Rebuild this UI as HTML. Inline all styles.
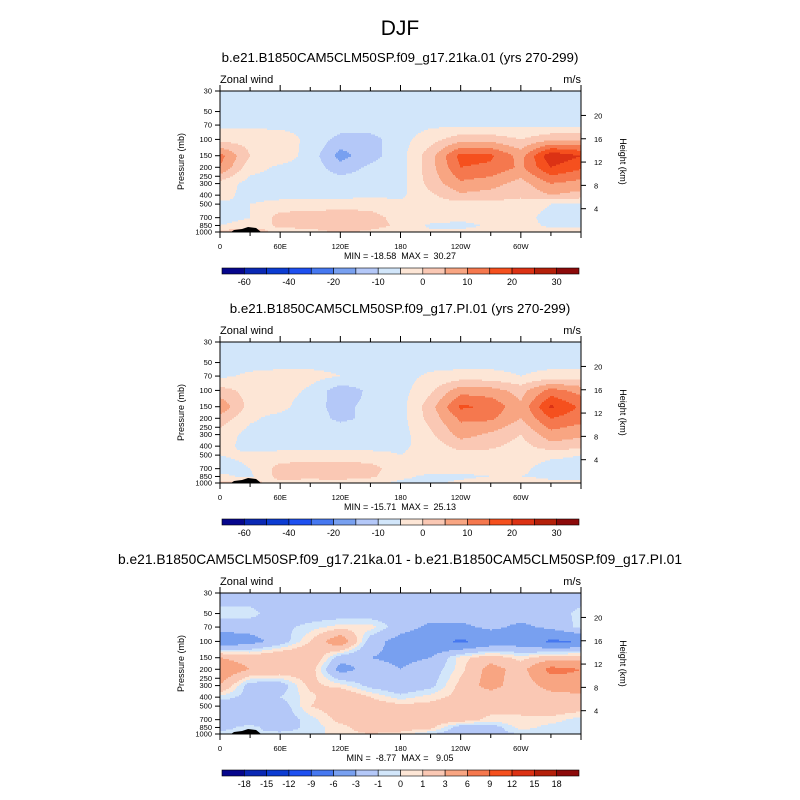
<!DOCTYPE html>
<html><head><meta charset="utf-8">
<style>
body{margin:0;background:#fff;}
svg{display:block;font-family:"Liberation Sans",sans-serif;}
</style></head>
<body>
<svg id="root" width="800" height="800" viewBox="0 0 800 800" xmlns="http://www.w3.org/2000/svg">
<rect width="800" height="800" fill="#fff"/>
<text x="400" y="35" font-size="21" text-anchor="middle">DJF</text>
</svg>
<script>
// ---- data ----
const lons = [0,30,60,90,120,150,180,210,240,270,300,330,360];
const levels = [30,50,70,100,150,200,300,400,500,700,850,1000];
const lonTickLabels = ["0","60E","120E","180","120W","60W"];
const presTicks = [30,50,70,100,150,200,250,300,400,500,700,850,1000];
const heightTicks = [4,8,12,16,20];
const colors = ['#06068c','#0a28b4','#0c3cd2','#1e50f0','#4678f0','#78a0f0','#b4c8f8','#d2e6fa','#fde6d6','#fac8b4','#f8a582','#f5784e','#f5501e','#dc3214','#b4200a','#8c0a0a'];
const bounds1 = [-60,-50,-40,-30,-20,-15,-10,-5,0,5,10,15,20,25,30];
const boundLabels1 = ["-60","","-40","","-20","","-10","","0","","10","","20","","30"];
const bounds3 = [-18,-15,-12,-9,-6,-3,-1,0,1,3,6,9,12,15,18];
const boundLabels3 = ["-18","-15","-12","-9","-6","-3","-1","0","1","3","6","9","12","15","18"];
const ctrl = [
[-7,-7,-7,-7,-7,-7,-7,-7,-7,-7,-7,-7,-7],
[-7,-7,-7,-7,-7,-7,-7,-7,-7,-7,-7,-7,-7],
[-6,-6,-6,-6,-7,-7,-7,-6,-6,-6,-6,-6,-6],
[-2,-2,-3,-6,-12,-12,-7,-2,3,3,0,4,4],
[12,0,-2,-7,-17,-12,-7,3,17,16,8,24,20],
[10,-3,-6,-7,-13,-9,-7,3,15,14,9,20,16],
[-2,-7,-7,-7,-7,-7,-7,2,9,7,3,10,8],
[-3,-7,-7,-7,-7,-6,-6,-1,4,3,1,5,3],
[-6,-5,-3,-3,-2,-2,-4,-2,-2,-2,-2,-5,-6],
[-7,-5,2,3,3,2,-2,-2,-3,-2,-3,-7,-7],
[-5,-3,1,2,3,2,-1,-6,-7,-4,-3,-6,-6],
[2,3,-2,-2,1,-1,-3,-4,-3,-3,-2,-3,-3]];
const pi = [
[-7,-7,-7,-7,-7,-7,-7,-7,-7,-7,-7,-7,-7],
[-7,-7,-7,-7,-7,-7,-7,-7,-7,-7,-7,-7,-7],
[-6,-4,-3,-3,-5,-7,-7,-4,-3,-3,-5,-3,-3],
[2,-2,-2,-6,-13,-9,-7,-1,8,7,3,12,8],
[9,-2,-3,-9,-11,-9,-7,3,16,14,6,21,14],
[3,-4,-7,-8,-11,-9,-7,2,11,11,5,15,12],
[-2,-7,-7,-7,-7,-7,-7,-1,7,4,0,8,6],
[-3,-7,-7,-7,-7,-7,-6,-3,2,1,-2,3,2],
[-5,-4,-3,-3,-3,-3,-5,-3,-2,-2,-3,-4,-5],
[-7,-5,2,3,3,2,-3,-3,-3,-3,-4,-7,-7],
[-4,-6,2,2,2,1,-4,-6,-6,-5,-5,-6,-6],
[2,2,-2,-3,-2,-4,-6,-6,-4,-2,-2,-4,-4]];
const diff = [
[-2,-2,-2,-2,-2,-2,-2,-2,-2,-2,-2,-2,-2],
[-0.5,-0.5,-2,-2,-2,-2,-2,-2,-2,-2,-2,-2,-0.5],
[-2,-2,-1.5,-0.5,0.5,0.5,-2,-3.5,-3.5,-2.5,-3.5,-2.5,-0.5],
[-5,-4,-2,1,5,-2,-4,-5,-6.5,-5,-4.5,-6.5,-6],
[3,2,3,3,-2,-3,-3.5,-3,0.5,2,0.5,2,2],
[5,3,2.5,2,-4,-2,-3,-2,0.5,4,2,7,6],
[3,-2,-2,1.5,0.5,-1.5,-2.5,-1.5,1.5,4,1.5,4,5],
[-0.5,-1.5,-1,0.5,3,1,-0.5,0.5,1.5,1.5,1.5,2,2],
[-2,-1.5,-2,1,2,2,1.5,1.5,2,2,1,2.5,2],
[-2,-2,-2,-0.5,1.5,2,2,2,2,0.5,1,0.5,-0.5],
[-1.5,-0.5,-2,-0.5,0.5,2,2,1.5,-2,-2,0.5,-0.5,-0.5],
[-0.5,-1,-0.5,-0.5,0.5,1,0.5,-1,-2,-1.5,-1,-0.5,-0.5]];
const panels = [
 {title:"b.e21.B1850CAM5CLM50SP.f09_g17.21ka.01 (yrs 270-299)", top:91, grid:ctrl, bounds:bounds1, labels:boundLabels1, minmax:"MIN = -18.58  MAX =  30.27"},
 {title:"b.e21.B1850CAM5CLM50SP.f09_g17.PI.01 (yrs 270-299)", top:342, grid:pi, bounds:bounds1, labels:boundLabels1, minmax:"MIN = -15.71  MAX =  25.13"},
 {title:"b.e21.B1850CAM5CLM50SP.f09_g17.21ka.01 - b.e21.B1850CAM5CLM50SP.f09_g17.PI.01", top:593, grid:diff, bounds:bounds3, labels:boundLabels3, minmax:"MIN =  -8.77  MAX =   9.05"}
];
// ---- drawing ----
const NS="http://www.w3.org/2000/svg";
const root=document.getElementById('root');
const X0=220,X1=581,H=141;
function mk(tag,attrs,parent){const e=document.createElementNS(NS,tag);for(const k in attrs)e.setAttribute(k,attrs[k]);(parent||root).appendChild(e);return e;}
function xOf(lon){return X0+(lon/360)*(X1-X0);}
function yOf(p,top){return top+Math.log(p/30)/Math.log(1000/30)*H;}
function binOf(v,b){let i=0;while(i<b.length&&v>=b[i])i++;return i;}
function sample(grid,lon,p){
  let i=Math.min(Math.floor(lon/30),11);const fx=(lon-lons[i])/30;
  let j=0;while(j<levels.length-2&&p>levels[j+1])j++;
  const fy=(Math.log(p)-Math.log(levels[j]))/(Math.log(levels[j+1])-Math.log(levels[j]));
  const a=grid[j][i]*(1-fx)+grid[j][i+1]*fx, b=grid[j+1][i]*(1-fx)+grid[j+1][i+1]*fx;
  return a*(1-fy)+b*fy;
}
panels.forEach((pn,k)=>{
  const g=mk('g',{});
  
  
  const t=mk('text',{x:400,y:pn.top-29,'font-size':k===2?13.8:13.3,'text-anchor':'middle'},g);t.textContent=pn.title;
  
  const l=mk('text',{x:220,y:pn.top-8,'font-size':11},g);l.textContent="Zonal wind";
  
  const u=mk('text',{x:581,y:pn.top-8,'font-size':11,'text-anchor':'end'},g);u.textContent="m/s";
  
  const field=mk('g',{'shape-rendering':'crispEdges'},g);
  
  const dy=1.5;
  for(let y=pn.top;y<pn.top+H;y+=dy){
    const p=30*Math.exp((y+dy/2-pn.top)/H*Math.log(1000/30));
    let runStart=X0,runBin=-1;
    for(let x=X0;x<=X1;x++){
      const bin = x<X1 ? binOf(sample(pn.grid,Math.min((x+0.5-X0)/(X1-X0)*360,359.99),p),pn.bounds) : -2;
      if(bin!==runBin){
        if(runBin>=0){const r=mk('rect',{x:runStart,y:y,width:x-runStart,height:dy+0.3,fill:colors[runBin]},field);
          }
        runStart=x;runBin=bin;
      }
    }
  }
  const by=pn.top+H;
  const topo=mk('path',{d:`M${xOf(11)},${by} L${xOf(14)},${by-2} L${xOf(22)},${by-3} L${xOf(28)},${by-5} L${xOf(36)},${by-4} L${xOf(41)},${by} Z`,fill:'#000'},g);
  
  const fr=mk('rect',{x:X0,y:pn.top,width:X1-X0,height:H,fill:'none',stroke:'#000','stroke-width':1},g);
  
  for(let lon=0;lon<=360;lon+=30){
    const x=xOf(lon),len=lon%60===0?6:4;
    mk('line',{x1:x,y1:pn.top,x2:x,y2:pn.top-len,stroke:'#000'},g);
    mk('line',{x1:x,y1:by,x2:x,y2:by+len,stroke:'#000'},g);
  }
  lonTickLabels.forEach((s,i)=>{const e=mk('text',{x:xOf(i*60),y:by+17,'font-size':7.5,'text-anchor':'middle'},g);e.textContent=s;
    });
  presTicks.forEach(p=>{const y=yOf(p,pn.top);mk('line',{x1:X0,y1:y,x2:X0-5,y2:y,stroke:'#000'},g);
    const e=mk('text',{x:X0-8,y:y+2.5,'font-size':7.5,'text-anchor':'end'},g);e.textContent=p;
    });
  heightTicks.forEach(h=>{const y=yOf(1000*Math.exp(-h/6.9),pn.top);mk('line',{x1:X1,y1:y,x2:X1+5,y2:y,stroke:'#000'},g);
    const e=mk('text',{x:X1+13,y:y+3,'font-size':7.5},g);e.textContent=h;
    });
  const ya=mk('text',{x:0,y:0,'font-size':9,'text-anchor':'middle',transform:`translate(184,${pn.top+H/2}) rotate(-90)`},g);ya.textContent="Pressure (mb)";
  
  const yb=mk('text',{x:0,y:0,'font-size':9,'text-anchor':'middle',transform:`translate(620,${pn.top+H/2}) rotate(90)`},g);yb.textContent="Height (km)";
  
  const mm=mk('text',{x:400,y:by+27,'font-size':9,'text-anchor':'middle',style:'white-space:pre'},g);mm.textContent=pn.minmax;
  
  // colorbar
  const cb=mk('g',{},g);
  const cy=by+36,cx0=222,cw=(579-222)/16;
  colors.forEach((c,i)=>{const r=mk('rect',{x:cx0+i*cw,y:cy,width:cw,height:6,fill:c,stroke:'#000','stroke-width':0.6},cb);
    });
  pn.labels.forEach((s,i)=>{if(!s)return;const e=mk('text',{x:cx0+(i+1)*cw,y:cy+17,'font-size':9,'text-anchor':'middle'},cb);e.textContent=s;
    });
});
</script>
</body></html>
